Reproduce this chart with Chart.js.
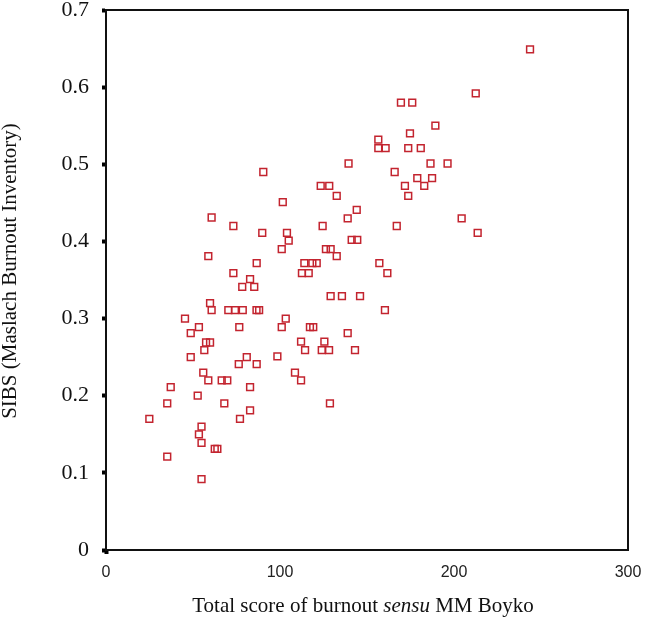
<!DOCTYPE html>
<html>
<head>
<meta charset="utf-8">
<script src="https://cdn.jsdelivr.net/npm/chart.js@4/dist/chart.umd.min.js"></script>
<style>
  html, body { margin: 0; padding: 0; background: #fff; }
</style>
</head>
<body>
<canvas id="chart" width="645" height="624"></canvas>
<script>
// Data
const burnoutScore = [
  243.7, 212.5, 169.5, 176.0, 189.3, 174.7, 156.5, 156.5, 160.7, 173.7,
  180.9, 139.4, 186.5, 196.3, 165.9, 178.9, 187.4, 171.8, 182.9, 173.7,
  123.4, 128.3, 132.6, 101.6, 90.4, 144.1, 138.9, 204.4, 213.6, 124.5,
  167.1, 104.0, 105.0, 101.0, 141.2, 144.4, 126.4, 129.1, 132.6, 114.0,
  118.6, 121.1, 112.6, 116.5, 157.1, 161.7, 129.1, 135.6, 146.0, 160.3,
  103.3, 101.0, 117.2, 119.1, 138.9, 112.1, 125.5, 114.4, 124.0, 128.2,
  143.1, 98.5, 108.6, 112.1, 128.7, 60.7, 73.2, 89.8, 58.8, 86.6,
  73.2, 82.8, 78.3, 85.2, 59.8, 60.7, 70.3, 74.1, 78.6, 86.5,
  88.0, 45.4, 53.4, 48.7, 76.6, 57.5, 59.8, 56.5, 48.7, 80.9,
  76.3, 86.6, 55.9, 58.8, 66.5, 69.7, 37.2, 82.8, 52.7, 68.0,
  35.2, 24.9, 82.8, 77.0, 54.9, 53.4, 54.9, 62.5, 64.0, 35.2,
  54.9
];
const sibsScore = [
  0.649, 0.592, 0.580, 0.580, 0.550, 0.540, 0.532, 0.521, 0.521, 0.521,
  0.521, 0.501, 0.501, 0.501, 0.490, 0.482, 0.482, 0.472, 0.472, 0.459,
  0.472, 0.472, 0.459, 0.451, 0.490, 0.441, 0.430, 0.430, 0.411, 0.420,
  0.420, 0.411, 0.401, 0.390, 0.402, 0.402, 0.390, 0.390, 0.381, 0.372,
  0.372, 0.372, 0.359, 0.359, 0.372, 0.359, 0.329, 0.329, 0.329, 0.311,
  0.300, 0.289, 0.289, 0.289, 0.281, 0.270, 0.270, 0.259, 0.259, 0.259,
  0.259, 0.251, 0.230, 0.220, 0.190, 0.431, 0.420, 0.411, 0.381, 0.372,
  0.359, 0.351, 0.341, 0.341, 0.320, 0.311, 0.311, 0.311, 0.311, 0.311,
  0.311, 0.300, 0.289, 0.281, 0.289, 0.269, 0.269, 0.259, 0.250, 0.250,
  0.241, 0.241, 0.230, 0.220, 0.220, 0.220, 0.211, 0.211, 0.200, 0.190,
  0.190, 0.170, 0.181, 0.170, 0.160, 0.150, 0.139, 0.131, 0.131, 0.121,
  0.092
];
const xTicks = [0, 100, 200, 300];
const yTicks = [0, 0.1, 0.2, 0.3, 0.4, 0.5, 0.6, 0.7];
const xTitleParts = [
  { text: 'Total score of burnout ', italic: false },
  { text: 'sensu', italic: true },
  { text: ' MM Boyko', italic: false }
];
const yTitle = 'SIBS (Maslach Burnout Inventory)';

const points = burnoutScore.map((x, i) => ({ x: x, y: sibsScore[i] }));
const serif = '"Liberation Serif", "Times New Roman", serif';

// box frame + axis titles (x title has an italic word, so draw it by hand)
const framePlugin = {
  id: 'frame',
  afterDraw(chart) {
    const { ctx, chartArea: a } = chart;
    ctx.save();
    ctx.strokeStyle = '#111';
    ctx.lineWidth = 2;
    ctx.strokeRect(a.left, a.top, a.right - a.left, a.bottom - a.top);

    ctx.fillStyle = '#111';
    ctx.textBaseline = 'alphabetic';
    let widths = xTitleParts.map(p => {
      ctx.font = (p.italic ? 'italic ' : '') + '21px ' + serif;
      return ctx.measureText(p.text).width;
    });
    let total = widths.reduce((s, w) => s + w, 0);
    let x = 363 - total / 2;
    xTitleParts.forEach((p, i) => {
      ctx.font = (p.italic ? 'italic ' : '') + '21px ' + serif;
      ctx.textAlign = 'left';
      ctx.fillText(p.text, x, 612);
      x += widths[i];
    });

    ctx.translate(10, 271);
    ctx.rotate(-Math.PI / 2);
    ctx.font = '21px ' + serif;
    ctx.textAlign = 'center';
    ctx.textBaseline = 'middle';
    ctx.fillText(yTitle, 0, 0);
    ctx.restore();
  }
};

new Chart(document.getElementById('chart'), {
  type: 'scatter',
  data: {
    datasets: [{
      data: points,
      pointStyle: 'rect',
      pointRadius: 4.8,
      pointHoverRadius: 4.8,
      borderWidth: 1.5,
      borderColor: '#c3242f',
      backgroundColor: 'rgba(255,255,255,0)'
    }]
  },
  options: {
    responsive: false,
    animation: false,
    layout: { padding: { top: 10, right: 17, left: 0, bottom: 0 } },
    plugins: { legend: { display: false }, tooltip: { enabled: false } },
    scales: {
      x: {
        type: 'linear',
        min: 0,
        max: 300,
        afterBuildTicks: s => { s.ticks = xTicks.map(v => ({ value: v })); },
        afterFit: s => { s.height = 74; s.paddingLeft = 0; s.paddingRight = 0; },
        ticks: {
          padding: 9,
          color: '#222',
          font: { family: '"Liberation Sans", Arial, sans-serif', size: 16 }
        },
        grid: {
          drawOnChartArea: false,
          tickLength: 4,
          tickWidth: 4,
          tickColor: c => (c.tick && c.tick.value === 0 ? '#000' : 'rgba(0,0,0,0)')
        },
        border: { color: '#111', width: 2 }
      },
      y: {
        min: 0,
        max: 0.7,
        afterBuildTicks: s => { s.ticks = yTicks.map(v => ({ value: v })); },
        afterFit: s => { s.width = 106; s.paddingTop = 0; s.paddingBottom = 0; },
        ticks: {
          padding: 13,
          color: '#111',
          font: { family: serif, size: 22 },
          callback: v => (v === 0 ? '0' : v.toFixed(1))
        },
        grid: {
          drawOnChartArea: false,
          tickLength: 4,
          tickWidth: 4,
          tickColor: '#000'
        },
        border: { color: '#111', width: 2 }
      }
    }
  },
  plugins: [framePlugin]
});
</script>
</body>
</html>
